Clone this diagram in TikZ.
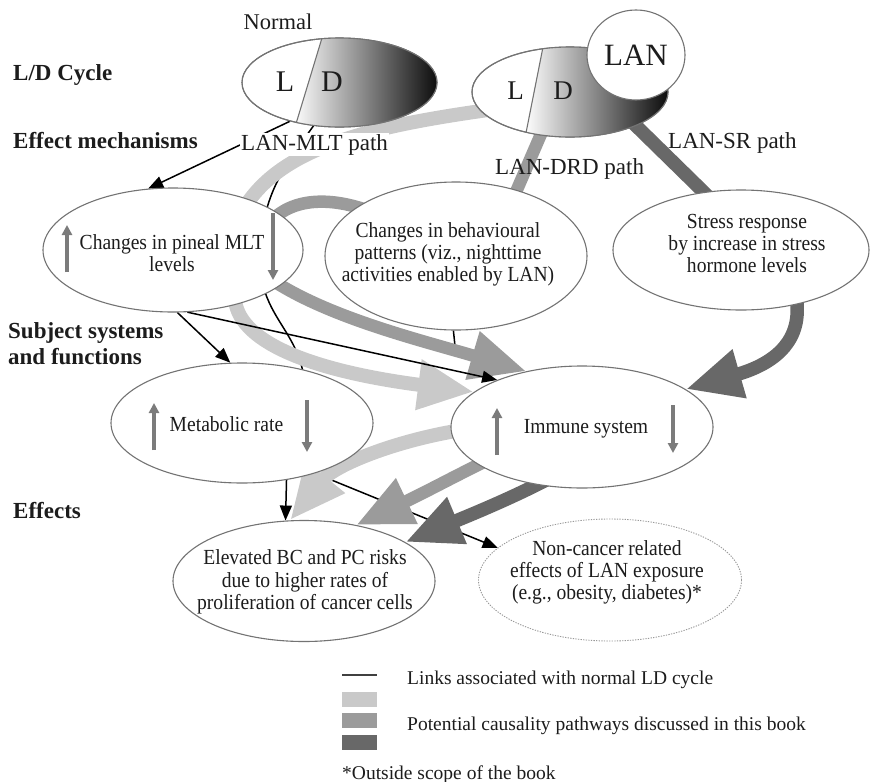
\documentclass[tikz,border=0pt]{standalone}
\usepackage{fontspec}
\setmainfont{Liberation Serif}
\newfontfamily\condfont[FakeStretch=0.91]{Liberation Serif}
\usetikzlibrary{arrows.meta,calc,shapes.geometric}
\pgfdeclarelayer{back}
\pgfsetlayers{back,main}
\definecolor{pathlight}{HTML}{C9C9C9}
\definecolor{pathmid}{HTML}{9B9B9B}
\definecolor{pathdark}{HTML}{686868}
\definecolor{edgegray}{HTML}{737373}
\definecolor{arrowgray}{HTML}{7B7B7B}
\definecolor{txt}{HTML}{1C1C1C}
\newcommand{\ellfont}[1]{\condfont\fontsize{21.5}{#1}\selectfont}
\begin{document}
\begin{tikzpicture}[x=1pt, y=-1pt,
  ell/.style={ellipse, draw=edgegray, line width=1.1pt, fill=white, inner sep=0pt},
  bandhead/.style={-{Triangle[length=56pt,width=47pt]}},
  lightband/.style={draw=pathlight, line width=14pt, line join=round},
  midband/.style={draw=pathmid, line width=12.5pt, line join=round},
  darkband/.style={draw=pathdark, line width=13.5pt, line join=round},
  normalline/.style={draw=black, line width=1.5pt},
  normalarrow/.style={normalline, -{Triangle[length=15pt,width=12pt]}},
  updown/.style={draw=arrowgray, line width=3.5pt, -{Triangle[length=10pt,width=10pt]}},
  ltext/.style={font=\bfseries\fontsize{23}{26}\selectfont, text=txt, inner sep=0pt, align=left},
  etext/.style={text=txt, inner sep=0pt, align=center},
  pathlabel/.style={font=\fontsize{23}{25}\selectfont, text=txt, inner sep=0pt},
  legendtext/.style={font=\fontsize{19.5}{22}\selectfont, text=txt, inner sep=0pt, anchor=base west},
  legendbox/.style={minimum width=35pt, minimum height=15pt, inner sep=0pt, anchor=north west}
  ]
\useasboundingbox (0,0) rectangle (871,782);

% ---------- L/D cycle ellipses ----------
\node[ell, minimum width=195pt, minimum height=89pt] (normal) at (339.5,82.5) {};
\begin{scope}
  \clip (normal.center) ellipse [x radius=97.5, y radius=44.5];
  \shade[left color=white, right color=black] (324.4,30) -- (445,30) -- (445,135) -- (292.6,135) -- cycle;
  \draw[edgegray, line width=1.1pt] (324.4,30) -- (292.6,135);
\end{scope}
\draw[edgegray, line width=1.1pt] (normal.center) ellipse [x radius=97.5, y radius=44.5];

\node[ell, minimum width=196pt, minimum height=90pt] (ld2) at (570,92) {};
\begin{scope}
  \clip (ld2.center) ellipse [x radius=98, y radius=45];
  \shade[left color=white, right color=black] (544.4,40) -- (675,40) -- (675,140) -- (524.6,140) -- cycle;
  \draw[edgegray, line width=1.1pt] (544.4,40) -- (524.6,140);
\end{scope}
\draw[edgegray, line width=1.1pt] (ld2.center) ellipse [x radius=98, y radius=45];

\node[ell, minimum width=98pt, minimum height=90pt, font=\fontsize{31}{31}\selectfont, text=txt] (lan) at (636,55) {LAN};

% ---------- other ellipses ----------
\node[ell, minimum width=260pt, minimum height=124pt] (pineal) at (173,250) {};
\node[ell, minimum width=262pt, minimum height=148pt] (behav) at (456,256) {};
\node[ell, minimum width=256pt, minimum height=120pt] (stress) at (741,250) {};
\node[ell, minimum width=262pt, minimum height=120pt] (metab) at (242,423) {};
\node[ell, minimum width=262pt, minimum height=122pt] (immune) at (582,427) {};
\node[ell, minimum width=262pt, minimum height=121pt] (elevated) at (304,581) {};
\node[ell, draw=black!40, line width=0.9pt, dash pattern=on 1.3pt off 1.3pt, minimum width=263pt, minimum height=122pt] (noncancer) at (610,580) {};

% ---------- hidden-end coordinates ----------
\coordinate (l1s) at (488,110);
\coordinate (l2s) at (475,428);
\coordinate (m1s) at (548,118);
\coordinate (m1e) at (506,215);
\coordinate (m2s) at (372,212);
\coordinate (m3s) at (505,452);
\coordinate (d1s) at (625,115);
\coordinate (d1e) at (722,210);
\coordinate (d2s) at (797,295);
\coordinate (d3s) at (565,470);

% ---------- connectors (behind ellipses) ----------
\begin{pgfonlayer}{back}
  % long link of the normal LD cycle
  \draw[normalline, -{Triangle[length=15pt,width=12pt]}] (normal.-121) .. controls (300,145) and (275,175) .. (266,212) -- (265,292) .. controls (275,322) and (296,338) .. (303,372) -- (307,470) -- (noncancer.164);
  \draw[normalline] (behav.-92) -- (455,346);
  % LAN-MLT path (light)
  \draw[lightband, bandhead] (l1s) .. controls (360,128) and (275,150) .. (240,215) -- (235,300) .. controls (240,345) and (320,372) .. (immune.162);
  \draw[lightband, bandhead] (l2s) .. controls (400,438) and (335,465) .. (elevated.103);
  % LAN-DRD path (medium)
  \draw[midband] (m1s) -- (m1e);
  \draw[midband, bandhead] (m2s) .. controls (330,196) and (292,198) .. (270,222) -- (272,280) .. controls (330,318) and (420,340) .. (immune.135);
  \draw[midband, bandhead] (m3s) .. controls (470,468) and (430,490) .. (elevated.47);
  % LAN-SR path (dark)
  \draw[darkband] (d1s) -- (d1e);
  \draw[darkband, bandhead] (d2s) -- (797,305) .. controls (800,345) and (770,365) .. (immune.20);
  \draw[darkband, bandhead] (d3s) .. controls (520,495) and (470,515) .. (elevated.21);
  % straight links of the normal LD cycle
  \draw[normalarrow] (normal.-142) -- (pineal.112);
  \draw[normalarrow] (pineal.-86) -- (metab.101);
  \draw[normalarrow] (pineal.-77) -- (immune.151);
  \draw[normalarrow] (metab.-52) -- (elevated.107);
\end{pgfonlayer}

% ---------- texts in L/D ellipses ----------
\node[font=\fontsize{22.5}{24}\selectfont, text=txt, inner sep=0pt] (normallabel) at (278,22) {Normal};
\node[font=\fontsize{30}{30}\selectfont, text=txt, inner sep=0pt] (nL) at (285,82) {L};
\node[font=\fontsize{30}{30}\selectfont, text=txt, inner sep=0pt] (nD) at (332,82) {D};
\node[font=\fontsize{27}{27}\selectfont, text=txt, inner sep=0pt] (lL) at (515.5,91) {L};
\node[font=\fontsize{27}{27}\selectfont, text=txt, inner sep=0pt] (lD) at (563,91) {D};

% ---------- level labels ----------
\node[ltext, anchor=base west] (ldcycle) at (13,80) {L/D Cycle};
\node[ltext, anchor=base west] (effmech) at (13,148) {Effect mechanisms};
\node[ltext, anchor=north west] (subsys) at (8,322) {Subject systems\\and functions};
\node[ltext, anchor=base west] (effects) at (13,518) {Effects};

% ---------- path labels ----------
\node[pathlabel, fill=white, inner sep=1pt, anchor=base west] (mltlabel) at (240,150) {LAN-MLT path};
\node[pathlabel, anchor=base west] (drdlabel) at (495,174) {LAN-DRD path};
\node[pathlabel, anchor=base west] (srlabel) at (668,148) {LAN-SR path};

% ---------- ellipse texts ----------
\node[etext, font=\ellfont{21.5}] (pinealtxt) at (172,253) {Changes in pineal MLT\\levels};
\node[etext, font=\ellfont{22}] (behavtxt) at (448,254.5) {Changes in behavioural\\patterns (viz., nighttime\\activities enabled by LAN)};
\node[etext, font=\ellfont{22}] (stresstxt) at (747,243.5) {Stress response\\by increase in stress\\hormone levels};
\node[etext, font=\ellfont{22}] (metabtxt) at (226.5,424) {Metabolic rate};
\node[etext, font=\ellfont{22}] (immunetxt) at (586,428.5) {Immune system};
\node[etext, font=\ellfont{22.5}] (elevatedtxt) at (305,582) {Elevated BC and PC risks\\due to higher rates of\\proliferation of cancer cells};
\node[etext, font=\ellfont{22}] (noncancertxt) at (607,572) {Non-cancer related\\effects of LAN exposure\\(e.g., obesity, diabetes)*};

% ---------- up / down arrows ----------
\draw[updown] ($(pineal)+(-106,22)$) -- ($(pineal)+(-106,-25)$);
\draw[updown] ($(pineal)+(100,-37)$) -- ($(pineal)+(100,30)$);
\draw[updown] ($(metab)+(-88,27)$) -- ($(metab)+(-88,-20)$);
\draw[updown] ($(metab)+(65,-23)$) -- ($(metab)+(65,29)$);
\draw[updown] ($(immune)+(-85,28)$) -- ($(immune)+(-85,-19)$);
\draw[updown] ($(immune)+(91,-22)$) -- ($(immune)+(91,26)$);

% ---------- legend ----------
\coordinate (lg1a) at (342,675);
\coordinate (lg1b) at (377,675);
\draw[draw=black!75, line width=1.1pt] (lg1a) -- (lg1b);
\node[legendtext] (lgt1) at (407,684) {Links associated with normal LD cycle};
\node[legendbox, fill=pathlight] (lgb1) at (342,692) {};
\node[legendbox, fill=pathmid] (lgb2) at (342,713) {};
\node[legendbox, fill=pathdark] (lgb3) at (342,735) {};
\node[legendtext] (lgt2) at (407,730) {Potential causality pathways discussed in this book};
\node[legendtext] (lgt3) at (342,779) {*Outside scope of the book};
\end{tikzpicture}
\end{document}
